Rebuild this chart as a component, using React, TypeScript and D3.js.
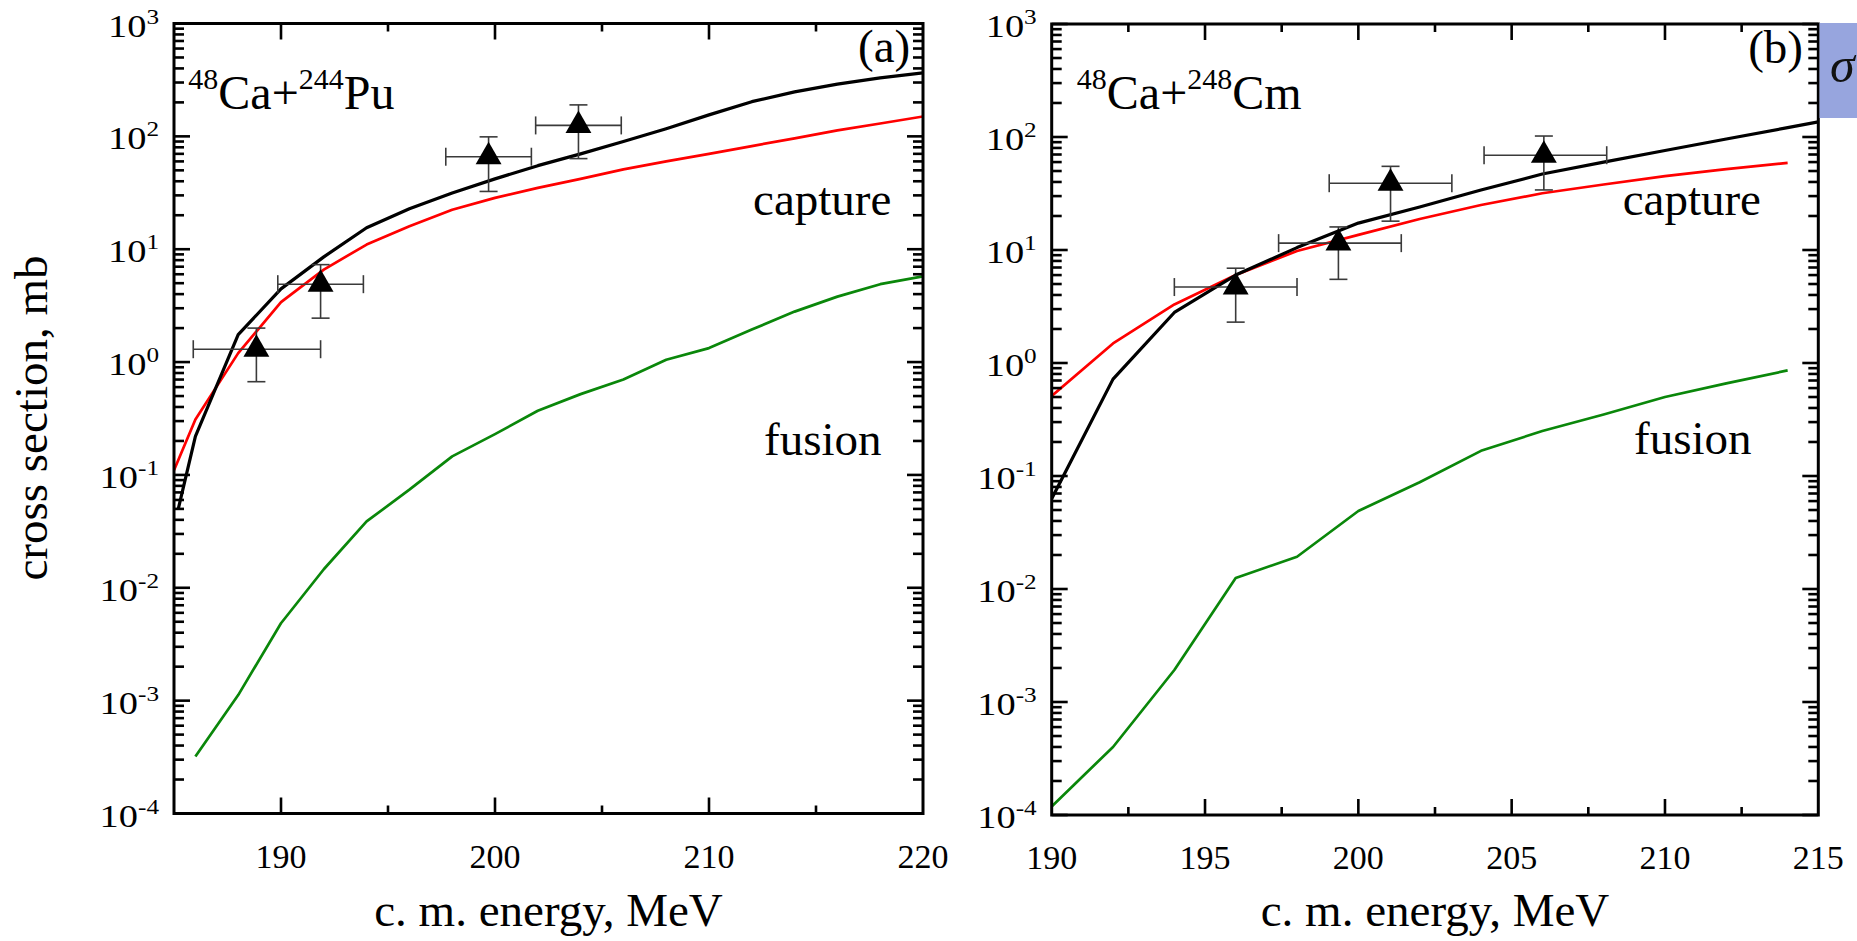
import React from "react";
import * as d3 from "d3";

type Pt = [number, number];
type Exp = { e: number; v: number; eLo: number; eHi: number; vLo: number; vHi: number };

// ---------------- Panel (a): 48Ca + 244Pu ----------------
const blackA: Pt[] = [
  [185.2, 0.05], [186, 0.22], [188, 1.75], [190, 4.45], [192, 8.55], [194, 15.5],
  [196, 22.8], [198, 31.5], [200, 42], [202, 55], [204, 70], [206, 90], [208, 117],
  [210, 155], [212, 203], [214, 248], [216, 290], [218, 330], [220, 366],
];
const redA: Pt[] = [
  [185, 0.11], [186, 0.31], [188, 1.2], [190, 3.4], [192, 6.6], [194, 11], [196, 16],
  [198, 22.4], [200, 28.5], [202, 35], [204, 42], [206, 51], [208, 60], [210, 70],
  [212, 82], [214, 96], [216, 113], [218, 130], [220, 150],
];
const greenA: Pt[] = [
  [186, 3.2e-4], [188, 1.12e-3], [190, 4.85e-3], [192, 0.0146], [194, 0.0387],
  [196, 0.074], [198, 0.146], [200, 0.23], [202, 0.37], [204, 0.52], [206, 0.7],
  [208, 1.05], [210, 1.33], [212, 1.94], [214, 2.8], [216, 3.8], [218, 4.9], [220, 5.75],
];
const expA: Exp[] = [
  { e: 188.85, v: 1.3, eLo: 185.9, eHi: 191.85, vLo: 0.67, vHi: 2.0 },
  { e: 191.85, v: 4.9, eLo: 189.85, eHi: 193.85, vLo: 2.45, vHi: 7.3 },
  { e: 199.7, v: 66, eLo: 197.7, eHi: 201.7, vLo: 32.5, vHi: 99 },
  { e: 203.9, v: 125, eLo: 201.9, eHi: 205.9, vLo: 63.5, vHi: 190 },
];
const xLabelsA = [190, 200, 210, 220];

// ---------------- Panel (b): 48Ca + 248Cm ----------------
const blackB: Pt[] = [
  [190, 0.063], [192, 0.72], [194, 2.8], [196, 6.0], [198, 10.5], [200, 17.3],
  [202, 24], [204, 34], [206, 47], [208, 60], [210, 76], [212, 96], [214, 121], [215, 136],
];
const redB: Pt[] = [
  [190, 0.51], [192, 1.49], [194, 3.3], [196, 6.0], [198, 9.8], [200, 13.6],
  [202, 18.8], [204, 25], [206, 31.8], [208, 38], [210, 45], [212, 52], [214, 59],
];
const greenB: Pt[] = [
  [190, 1.19e-4], [192, 4.0e-4], [194, 1.92e-3], [196, 0.0125], [198, 0.0193],
  [200, 0.049], [202, 0.088], [204, 0.167], [206, 0.25], [208, 0.35], [210, 0.5],
  [212, 0.66], [214, 0.86],
];
const expB: Exp[] = [
  { e: 196.0, v: 4.7, eLo: 194.0, eHi: 198.0, vLo: 2.3, vHi: 6.9 },
  { e: 199.35, v: 11.5, eLo: 197.4, eHi: 201.4, vLo: 5.5, vHi: 16 },
  { e: 201.05, v: 39, eLo: 199.05, eHi: 203.05, vLo: 18, vHi: 55 },
  { e: 206.05, v: 69, eLo: 204.1, eHi: 208.1, vLo: 34, vHi: 102 },
];
const xLabelsB = [190, 195, 200, 205, 210, 215];

const yDomain: [number, number] = [1e-4, 1e3];
const FONT = "'Liberation Serif', 'Times New Roman', Times, serif";

type PanelProps = {
  id: string;
  left: number; right: number; top: number; bottom: number;
  xDomain: [number, number];
  xStep: number; xMajorStep: number;
  xLabels: number[];
  black: Pt[]; red: Pt[]; green: Pt[];
  exp: Exp[];
  reaction: [string, string, string, string];
  reactionAt: Pt;
  tag: string; tagAt: Pt;
  captureAt: Pt; fusionAt: Pt;
};

function Panel(p: PanelProps) {
  const x = d3.scaleLinear().domain(p.xDomain).range([p.left, p.right]);
  const y = d3.scaleLog().domain(yDomain).range([p.bottom, p.top]);
  const line = d3.line<Pt>().x((d) => x(d[0])).y((d) => y(d[1]));
  const yTicks = y.ticks();
  const isMajorY = (t: number) => Math.abs(Math.log10(t) - Math.round(Math.log10(t))) < 1e-9;
  const xTicks = d3.range(p.xDomain[0] + p.xStep, p.xDomain[1] - 0.01, p.xStep);
  const isMajorX = (t: number) => Math.abs(t / p.xMajorStep - Math.round(t / p.xMajorStep)) < 1e-6;
  const tri = d3.symbol().type(d3.symbolTriangle).size(290)() as string;
  const ebColor = "#3a3a3a";
  const cap = 9;

  return (
    <g>
      <defs>
        <clipPath id={`clip-${p.id}`}>
          <rect x={p.left} y={p.top} width={p.right - p.left} height={p.bottom - p.top} />
        </clipPath>
      </defs>

      {/* curves */}
      <g clipPath={`url(#clip-${p.id})`} fill="none" strokeLinejoin="round">
        <path d={line(p.green) || ""} stroke="#0a870a" strokeWidth={2.7} />
        <path d={line(p.red) || ""} stroke="#ff0000" strokeWidth={2.7} />
        <path d={line(p.black) || ""} stroke="#000" strokeWidth={3.2} />
      </g>

      {/* experimental points */}
      {p.exp.map((d, i) => (
        <g key={i} stroke={ebColor} strokeWidth={1.6}>
          <line x1={x(d.eLo)} x2={x(d.eHi)} y1={y(d.v)} y2={y(d.v)} />
          <line x1={x(d.eLo)} x2={x(d.eLo)} y1={y(d.v) - cap} y2={y(d.v) + cap} />
          <line x1={x(d.eHi)} x2={x(d.eHi)} y1={y(d.v) - cap} y2={y(d.v) + cap} />
          <line x1={x(d.e)} x2={x(d.e)} y1={y(d.vHi)} y2={y(d.vLo)} />
          <line x1={x(d.e) - cap} x2={x(d.e) + cap} y1={y(d.vHi)} y2={y(d.vHi)} />
          <line x1={x(d.e) - cap} x2={x(d.e) + cap} y1={y(d.vLo)} y2={y(d.vLo)} />
          <path d={tri} transform={`translate(${x(d.e)},${y(d.v)})`} fill="#000" stroke="none" />
        </g>
      ))}

      {/* ticks, all four sides */}
      <g stroke="#000" strokeWidth={2.6}>
        {yTicks.map((t, i) => {
          const len = isMajorY(t) ? 16 : 10;
          return (
            <g key={i}>
              <line x1={p.left} x2={p.left + len} y1={y(t)} y2={y(t)} />
              <line x1={p.right} x2={p.right - len} y1={y(t)} y2={y(t)} />
            </g>
          );
        })}
        {xTicks.map((t, i) => {
          const len = isMajorX(t) ? 16 : 8;
          return (
            <g key={i}>
              <line x1={x(t)} x2={x(t)} y1={p.bottom} y2={p.bottom - len} />
              <line x1={x(t)} x2={x(t)} y1={p.top} y2={p.top + len} />
            </g>
          );
        })}
      </g>

      {/* frame */}
      <rect x={p.left} y={p.top} width={p.right - p.left} height={p.bottom - p.top}
        fill="none" stroke="#000" strokeWidth={3} />

      {/* tick labels */}
      <g fontFamily={FONT} fill="#000">
        {yTicks.filter(isMajorY).map((t, i) => {
          const ex = Math.round(Math.log10(t));
          return (
            <g key={i} transform={`translate(${p.left - 15},${y(t) + 13}) scale(1.2,1)`}>
              <text x={0} y={0} textAnchor="end" fontSize={32}>
                <tspan>10</tspan>
                <tspan dy={-13} fontSize={21}>{ex < 0 ? `-${-ex}` : `${ex}`}</tspan>
              </text>
            </g>
          );
        })}
        {p.xLabels.map((t, i) => (
          <text key={i} x={x(t)} y={p.bottom + 54} textAnchor="middle" fontSize={34}>{t}</text>
        ))}
        <text x={(p.left + p.right) / 2} y={926} textAnchor="middle" fontSize={47}>
          c. m. energy, MeV
        </text>
      </g>

      {/* annotations */}
      <g fontFamily={FONT} fill="#000">
        <text x={x(p.reactionAt[0])} y={y(p.reactionAt[1])} fontSize={48}>
          <tspan dy={-20} fontSize={30}>{p.reaction[0]}</tspan>
          <tspan dy={20}>{p.reaction[1]}</tspan>
          <tspan dy={-20} fontSize={30}>{p.reaction[2]}</tspan>
          <tspan dy={20}>{p.reaction[3]}</tspan>
        </text>
        <text x={x(p.tagAt[0])} y={y(p.tagAt[1])} textAnchor="end" fontSize={47}>{p.tag}</text>
        <text x={x(p.captureAt[0])} y={y(p.captureAt[1])} fontSize={47}>capture</text>
        <text x={x(p.fusionAt[0])} y={y(p.fusionAt[1])} fontSize={47}>fusion</text>
      </g>
    </g>
  );
}

export default function App() {
  return (
    <svg width={1857} height={941} viewBox="0 0 1857 941"
      style={{ position: "absolute", left: 0, top: 0, display: "block", background: "#fff" }}>
      <rect x={0} y={0} width={1857} height={941} fill="#fff" />
      <Panel id="a" left={174} right={923} top={23.5} bottom={813.5}
        xDomain={[185, 220]} xStep={5} xMajorStep={10} xLabels={xLabelsA}
        black={blackA} red={redA} green={greenA} exp={expA}
        reaction={["48", "Ca+", "244", "Pu"]} reactionAt={[185.67, 174]}
        tag="(a)" tagAt={[219.4, 459]}
        captureAt={[212.06, 20.1]} fusionAt={[212.57, 0.15]} />
      <Panel id="b" left={1051.7} right={1818.3} top={24} bottom={815}
        xDomain={[190, 215]} xStep={2.5} xMajorStep={5} xLabels={xLabelsB}
        black={blackB} red={redB} green={greenB} exp={expB}
        reaction={["48", "Ca+", "248", "Cm"]} reactionAt={[190.82, 176]}
        tag="(b)" tagAt={[214.5, 449]}
        captureAt={[208.62, 20.4]} fusionAt={[208.99, 0.158]} />
      <text transform="translate(47,418) rotate(-90)" textAnchor="middle"
        fontFamily={FONT} fontSize={47} fill="#000">cross section, mb</text>
      <rect x={1819.5} y={23} width={40} height={95} fill="#97a5de" />
      <text x={1830} y={82} fontFamily={FONT} fontStyle="italic" fontSize={50} fill="#111">σ</text>
    </svg>
  );
}
